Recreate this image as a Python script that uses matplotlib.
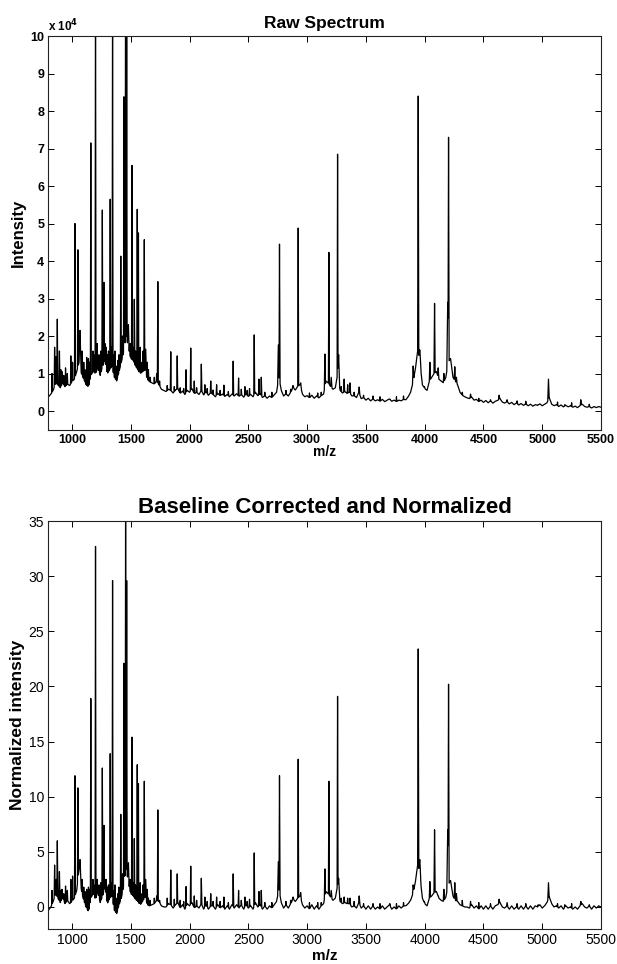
import numpy as np
import matplotlib
matplotlib.use("Agg")
import matplotlib.pyplot as plt

plt.rcParams['font.family'] = ['Liberation Sans', 'DejaVu Sans']

# ---------------- data ----------------
# noisy floor of the spectrum, sampled every 20 m/z from 800 to 5500
floor_mz = np.arange(800, 5501, 20)

raw_floor = [  # x 10^4
    0.38, 0.45, 0.55, 0.75, 0.70, 0.62, 0.75, 0.65, 0.72, 0.68,
    0.78, 0.85, 1.05, 1.30, 1.00, 0.85, 0.70, 0.65, 0.95, 1.05,
    1.00, 1.15, 0.95, 1.20, 1.35, 1.00, 1.10, 1.20, 0.90, 0.80,
    1.05, 1.30, 1.60, 2.00, 1.70, 1.40, 1.35, 1.20, 1.10, 1.00,
    1.05, 1.10, 0.85, 0.78, 0.75, 0.72, 0.80, 0.70, 0.58, 0.55,
    0.52, 0.58, 0.55, 0.48, 0.56, 0.60, 0.47, 0.53, 0.44, 0.55,
    0.50, 0.60, 0.46, 0.50, 0.44, 0.55, 0.43, 0.51, 0.42, 0.49,
    0.44, 0.38, 0.47, 0.41, 0.45, 0.39, 0.44, 0.38, 0.45, 0.40,
    0.46, 0.39, 0.44, 0.37, 0.45, 0.39, 0.44, 0.38, 0.50, 0.41,
    0.46, 0.36, 0.41, 0.34, 0.40, 0.36, 0.43, 0.50, 0.90, 0.55,
    0.40, 0.46, 0.40, 0.50, 0.62, 0.56, 0.66, 0.70, 0.45, 0.38,
    0.41, 0.35, 0.42, 0.34, 0.40, 0.35, 0.41, 0.45, 0.80, 0.75,
    0.65, 0.58, 0.62, 1.00, 0.55, 0.48, 0.52, 0.47, 0.50, 0.40,
    0.41, 0.36, 0.50, 0.33, 0.36, 0.29, 0.34, 0.27, 0.32, 0.27,
    0.30, 0.26, 0.31, 0.25, 0.29, 0.32, 0.26, 0.29, 0.25, 0.29,
    0.27, 0.31, 0.30, 0.38, 0.50, 0.75, 1.10, 1.60, 1.30, 0.70,
    0.60, 0.55, 0.80, 0.90, 1.00, 1.05, 0.85, 0.80, 0.75, 0.90,
    1.30, 1.40, 0.90, 0.80, 0.70, 0.50, 0.42, 0.38, 0.35, 0.33,
    0.37, 0.29, 0.31, 0.25, 0.29, 0.23, 0.28, 0.22, 0.27, 0.21,
    0.26, 0.28, 0.33, 0.24, 0.21, 0.25, 0.19, 0.23, 0.17, 0.21,
    0.16, 0.20, 0.15, 0.19, 0.14, 0.18, 0.13, 0.17, 0.15, 0.19,
    0.14, 0.18, 0.22, 0.35, 0.18, 0.14, 0.17, 0.12, 0.16, 0.11,
    0.15, 0.11, 0.14, 0.10, 0.13, 0.09, 0.14, 0.18, 0.12, 0.10,
    0.12, 0.08, 0.12, 0.09, 0.12, 0.10,
]

norm_floor = [
    -0.3, 0.0, 0.5, 1.2, 0.8, 0.4, 0.9, 0.3, 0.6, 0.3,
    0.5, 0.8, 1.5, 3.5, 1.5, 0.6, 0.0, -0.4, 0.8, 1.2,
    0.7, 1.4, 0.4, 1.0, 1.8, 0.3, 0.8, 1.0, -0.3, -0.6,
    0.2, 0.8, 2.0, 3.5, 2.2, 1.2, 1.0, 0.7, 0.5, 0.2,
    0.5, 0.9, 0.2, 0.1, 0.2, 0.3, 0.6, 0.5, 0.1, 0.0,
    0.0, 0.3, 0.2, -0.1, 0.2, 0.4, -0.1, 0.2, -0.2, 0.3,
    0.1, 0.4, -0.1, 0.1, -0.1, 0.3, -0.2, 0.2, -0.2, 0.1,
    0.1, -0.2, 0.2, -0.1, 0.1, -0.2, 0.1, -0.2, 0.2, -0.1,
    0.2, -0.1, 0.2, -0.2, 0.2, -0.1, 0.1, -0.2, 0.4, 0.0,
    0.2, -0.2, 0.1, -0.2, 0.1, -0.1, 0.2, 0.5, 1.6, 0.4,
    -0.1, 0.2, -0.1, 0.3, 0.7, 0.5, 0.8, 1.0, 0.2, -0.1,
    0.1, -0.2, 0.2, -0.2, 0.1, -0.2, 0.1, 0.3, 1.4, 1.2,
    0.9, 0.6, 0.8, 2.0, 0.5, 0.3, 0.4, 0.3, 0.3, 0.0,
    0.1, -0.1, 0.4, -0.1, 0.1, -0.2, 0.1, -0.2, 0.1, -0.2,
    0.0, -0.2, 0.1, -0.2, 0.0, 0.2, -0.2, 0.0, -0.2, 0.1,
    -0.1, 0.1, 0.1, 0.3, 0.6, 1.2, 2.2, 3.8, 2.8, 0.8,
    0.3, 0.1, 0.8, 1.0, 1.3, 1.4, 0.8, 0.6, 0.5, 0.9,
    2.0, 2.4, 1.0, 0.6, 0.5, 0.2, 0.1, 0.0, 0.0, -0.1,
    0.2, -0.1, 0.1, -0.2, 0.1, -0.2, 0.1, -0.2, 0.1, -0.2,
    0.1, 0.2, 0.4, 0.0, -0.1, 0.1, -0.2, 0.1, -0.2, 0.0,
    -0.2, 0.1, -0.2, 0.1, -0.2, 0.1, -0.2, 0.1, 0.0, 0.2,
    -0.1, 0.1, 0.4, 0.9, 0.3, 0.0, 0.1, -0.1, 0.1, -0.2,
    0.1, -0.1, 0.0, -0.2, 0.0, -0.2, 0.1, 0.3, 0.0, -0.1,
    0.1, -0.2, 0.1, -0.1, 0.1, 0.0,
]

# main peaks: m/z position, apex in raw panel (x 10^4), apex in normalized panel, half width (m/z)
peak_mz = [852, 875, 893, 915, 945, 990, 1005, 1025, 1050, 1068,
           1125, 1140, 1160, 1178, 1200, 1258, 1272, 1290, 1325, 1345,
           1365, 1400, 1415, 1442, 1456, 1465, 1480, 1500, 1510, 1530,
           1555, 1565, 1580, 1615, 1627, 1640, 1730, 1840, 1895, 1970,
           2010, 2040, 2100, 2130, 2180, 2230, 2292, 2371, 2417, 2471,
           2510, 2550, 2590, 2610, 2755, 2765, 2880, 2924, 2945, 3151,
           3185, 3205, 3259, 3268, 3315, 3345, 3365, 3443, 3704, 3902,
           3945, 3958, 3998, 4044, 4084, 4115, 4163, 4196, 4203, 4256,
           4270, 4390, 4633, 4701, 4786, 4965, 5053, 5192, 5328]
peak_raw = [1.70, 2.45, 1.60, 1.05, 1.15, 1.47, 1.30, 5.00, 4.30, 2.15,
            1.43, 1.40, 7.15, 1.60, 12.0, 5.36, 3.43, 1.70, 5.65, 11.5,
            1.60, 1.50, 4.13, 8.38, 14.0, 11.0, 2.30, 1.80, 6.55, 2.98,
            5.38, 4.75, 1.70, 4.57, 1.65, 1.30, 3.45, 1.58, 1.47, 1.10,
            1.68, 0.80, 1.25, 0.70, 0.80, 0.70, 0.69, 1.33, 0.88, 0.65,
            0.60, 2.03, 0.85, 0.90, 1.76, 4.45, 0.68, 4.88, 0.75, 1.52,
            4.23, 0.90, 6.85, 1.50, 0.85, 0.70, 0.75, 0.64, 0.32, 1.20,
            8.40, 1.63, 0.65, 1.30, 2.87, 1.15, 1.00, 2.90, 7.30, 1.18,
            0.90, 0.45, 0.42, 0.30, 0.27, 0.17, 0.85, 0.17, 0.30]
peak_norm = [3.8, 6.0, 3.2, 1.6, 1.9, 2.5, 2.8, 11.9, 10.8, 4.3,
             1.6, 1.8, 18.9, 2.5, 32.7, 12.6, 7.4, 2.5, 13.9, 29.6,
             2.0, 1.8, 8.4, 22.1, 38.0, 29.6, 4.0, 2.5, 15.4, 6.2,
             12.9, 11.2, 2.2, 11.4, 2.5, 1.6, 8.8, 3.35, 3.0, 1.85,
             3.7, 1.0, 2.6, 0.9, 1.2, 0.9, 0.9, 3.0, 1.5, 0.9,
             0.7, 4.9, 1.4, 1.5, 4.1, 11.9, 0.9, 13.4, 1.3, 3.45,
             11.4, 1.5, 19.1, 2.6, 0.9, 0.8, 0.8, 1.0, 0.3, 2.0,
             23.4, 4.3, 0.5, 2.3, 7.0, 1.0, 1.6, 7.0, 20.2, 2.2,
             1.2, 0.5, 0.7, 0.4, 0.3, 0.2, 2.2, 0.2, 0.5]
peak_hw = [4, 4, 4, 3, 3, 3, 3, 4, 4, 8,
           3, 3, 4, 3, 4, 4, 4, 4, 4, 4,
           3, 3, 4, 4, 4, 4, 5, 3, 4, 4,
           4, 3, 3, 4, 6, 4, 4, 4, 4, 4,
           4, 4, 4, 4, 4, 4, 4, 4, 4, 4,
           4, 4, 4, 4, 6, 4, 8, 4, 6, 5,
           4, 6, 4, 8, 4, 4, 4, 5, 5, 6,
           5, 10, 5, 5, 5, 5, 5, 8, 5, 5,
           5, 5, 6, 5, 5, 5, 6, 5, 5]

# minor noise spikes: m/z, apex raw (x 10^4), apex normalized
minor_mz = [830, 865, 905, 930, 960, 1000, 1085, 1100, 1110, 1150,
            1185, 1190, 1215, 1230, 1245, 1280, 1300, 1310, 1335, 1355,
            1375, 1390, 1430, 1448, 1475, 1490, 1520, 1540, 1575, 1595,
            1605, 1650, 1665, 1700, 1720, 1745, 1810, 1870, 1920, 1950,
            2060, 2150, 2200, 2260, 2330, 2440, 2490, 2640, 2700, 2820,
            2860, 3020, 3090, 3120, 3290, 3400, 3480, 3560, 3620, 3760,
            3820, 4320, 4460, 4560, 4860, 5130, 5250, 5400]
minor_raw = [1.00, 1.45, 1.10, 0.95, 1.00, 1.10, 1.60, 1.30, 1.10, 1.30,
             1.50, 1.40, 1.80, 1.50, 1.60, 1.80, 1.50, 1.60, 1.70, 1.50,
             1.20, 1.35, 2.00, 2.30, 2.20, 1.80, 1.70, 1.60, 1.50, 1.30,
             1.60, 1.10, 0.90, 0.90, 1.00, 0.80, 0.68, 0.65, 0.62, 0.60,
             0.62, 0.60, 0.56, 0.55, 0.52, 0.58, 0.55, 0.50, 0.50, 0.55,
             0.58, 0.48, 0.48, 0.50, 0.65, 0.50, 0.42, 0.40, 0.38, 0.38,
             0.40, 0.50, 0.34, 0.30, 0.26, 0.24, 0.22, 0.18]
minor_norm = [1.5, 2.5, 1.5, 1.2, 1.5, 1.8, 2.5, 1.8, 1.4, 1.6,
              2.0, 1.8, 2.5, 2.0, 2.2, 2.5, 1.8, 2.0, 2.2, 1.5,
              0.8, 1.2, 3.0, 3.5, 3.5, 2.5, 2.2, 2.0, 1.8, 1.2,
              2.0, 0.8, 0.6, 0.8, 1.0, 0.6, 0.8, 0.7, 0.6, 0.5,
              0.6, 0.5, 0.5, 0.5, 0.4, 0.6, 0.5, 0.4, 0.4, 0.5,
              0.6, 0.4, 0.4, 0.4, 0.8, 0.5, 0.3, 0.3, 0.3, 0.3,
              0.4, 0.6, 0.4, 0.3, 0.3, 0.3, 0.3, 0.2]

x_ticks = [1000, 1500, 2000, 2500, 3000, 3500, 4000, 4500, 5000, 5500]
raw_yticks = list(range(0, 11))
norm_yticks = [0, 5, 10, 15, 20, 25, 30, 35]


def build_trace(floor_vals, apex_vals, minor_vals):
    x = np.arange(800, 5501, 1.0)
    y = np.interp(x, floor_mz, floor_vals)
    base = y.copy()
    mzs = list(peak_mz) + list(minor_mz)
    hs = list(apex_vals) + list(minor_vals)
    ws = list(peak_hw) + [3] * len(minor_mz)
    for mz, h, w in zip(mzs, hs, ws):
        tri = np.clip(1 - np.abs(x - mz) / w, 0, None)
        prof = base + (h - base) * tri
        y = np.maximum(y, prof)
    return x, y


fig = plt.figure(figsize=(6.17, 9.64), dpi=100)

ax1 = fig.add_axes([0.0786, 0.5542, 0.8955, 0.4084])
ax2 = fig.add_axes([0.0786, 0.0363, 0.8955, 0.4232])

x1, y1 = build_trace(raw_floor, peak_raw, minor_raw)
ax1.plot(x1, y1, color='black', lw=0.9)
x2, y2 = build_trace(norm_floor, peak_norm, minor_norm)
ax2.plot(x2, y2, color='black', lw=0.9)

for ax in (ax1, ax2):
    ax.set_xlim(800, 5500)
    ax.set_xticks(x_ticks)
    ax.tick_params(direction='in', top=True, right=True, length=4, width=0.7, pad=3)
    for s in ax.spines.values():
        s.set_linewidth(0.8)
        s.set_color('#222222')

ax1.set_ylim(-0.5, 10)
ax1.set_yticks(raw_yticks)
for lab in ax1.get_xticklabels() + ax1.get_yticklabels():
    lab.set_fontweight('bold')
    lab.set_fontsize(9)
ax1.set_title('Raw Spectrum', fontsize=12.5, fontweight='bold', pad=6)
ax1.set_xlabel('m/z', fontsize=10, fontweight='bold', labelpad=-1)
ax1.set_ylabel('Intensity', fontsize=12, fontweight='bold', labelpad=3)
ax1.text(0.0, 1.005, r'x 10$^{\mathbf{4}}$', transform=ax1.transAxes, fontsize=8.5,
         fontweight='bold', ha='left', va='bottom')

ax2.set_ylim(-2, 35)
ax2.set_yticks(norm_yticks)
for lab in ax2.get_xticklabels() + ax2.get_yticklabels():
    lab.set_fontsize(10)
ax2.set_title('Baseline Corrected and Normalized', fontsize=16, fontweight='bold', pad=6)
ax2.set_xlabel('m/z', fontsize=11, fontweight='bold', labelpad=1)
ax2.set_ylabel('Normalized intensity', fontsize=12.5, fontweight='bold', labelpad=3)

fig.savefig('out.png', dpi=100)
